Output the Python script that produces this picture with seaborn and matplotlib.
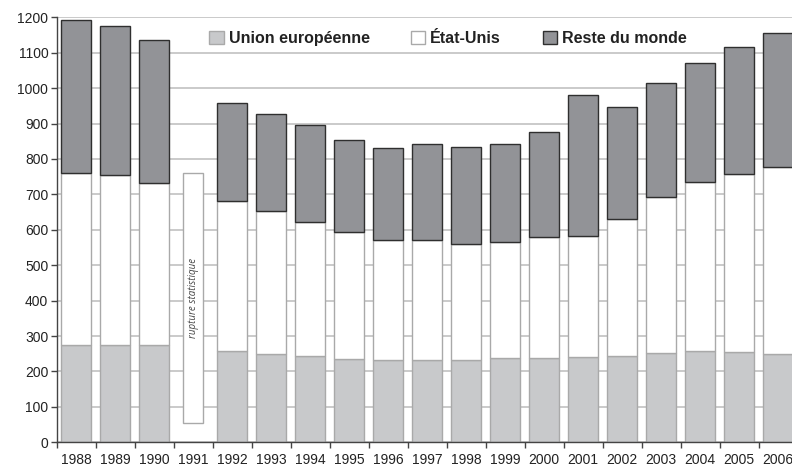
import numpy as np
import pandas as pd
import matplotlib
matplotlib.use("Agg")
import matplotlib.pyplot as plt
import seaborn as sns

# values (1991 = statistical break, no split)
years = [str(y) for y in range(1988, 2007)]
ue = [275, 275, 275, np.nan, 258, 250, 244, 234, 232, 233, 232, 237, 239, 240, 244, 251, 257, 254, 250]
ue_us = [759, 754, 732, np.nan, 682, 653, 622, 593, 571, 570, 561, 565, 580, 583, 630, 692, 736, 758, 778]
total = [1191, 1175, 1135, np.nan, 959, 927, 897, 853, 830, 842, 833, 842, 875, 981, 947, 1014, 1071, 1117, 1156]
rupture_year = "1991"
rupture_low, rupture_high = 55, 761

df = pd.DataFrame({"Annee": years, "UE": ue, "UE_US": ue_us, "Total": total}).dropna()
df["US"] = df["UE_US"] - df["UE"]
df["Reste"] = df["Total"] - df["UE_US"]

sns.set_theme(style="white")
plt.rcParams["font.family"] = ["Liberation Sans", "DejaVu Sans"]

fig = plt.figure(figsize=(7.92, 4.68), dpi=100)
ax = fig.add_axes([56.7 / 792, 25.7 / 468, 741 / 792, 425 / 468])

w = 0.77
sns.barplot(data=df, x="Annee", y="UE", order=years, color="#c8c9cb", saturation=1,
            edgecolor="#a9a9a9", linewidth=1, width=w, errorbar=None, ax=ax,
            label="Union européenne", zorder=2)
sns.barplot(data=df, x="Annee", y="US", order=years, color="white", saturation=1,
            edgecolor="#a9a9a9", linewidth=1, width=w, errorbar=None, ax=ax,
            bottom=df["UE"].values, label="État-Unis", zorder=2)
sns.barplot(data=df, x="Annee", y="Reste", order=years, color="#929397", saturation=1,
            edgecolor="#2f2f2f", linewidth=1, width=w, errorbar=None, ax=ax,
            bottom=df["UE_US"].values, label="Reste du monde", zorder=2)

# statistical break bar
brk = pd.DataFrame({"Annee": [rupture_year], "h": [rupture_high - rupture_low]})
sns.barplot(data=brk, x="Annee", y="h", order=years, color="white", saturation=1,
            edgecolor="#a9a9a9", linewidth=1, width=0.5, errorbar=None, ax=ax,
            bottom=[rupture_low], zorder=2)
ax.text(years.index(rupture_year), 407, "rupture statistique", rotation=90,
        ha="center", va="center", fontsize=7, style="italic", color="#444444",
        family=["Open Sans", "DejaVu Sans"], zorder=3)

ax.set_ylim(0, 1200)
ax.set_yticks(range(0, 1201, 100))
ax.set_xlim(-0.5, len(years) - 0.5)
ax.set_xlabel("")
ax.set_ylabel("")

ax.yaxis.grid(True, color="#bcbcbc", linewidth=1.1, zorder=0)
ax.set_axisbelow(True)
for s in ["top", "right"]:
    ax.spines[s].set_visible(False)
for s in ["left", "bottom"]:
    ax.spines[s].set_color("#444444")
    ax.spines[s].set_linewidth(1)

ax.tick_params(axis="y", which="major", direction="out", length=4, width=1,
               color="#444444", labelsize=10, labelcolor="#222222", pad=2, left=True)
ax.tick_params(axis="x", which="major", length=0, labelsize=10, labelcolor="#222222", pad=8)
ax.set_xticks(np.arange(-0.5, len(years)), minor=True)
ax.tick_params(axis="x", which="minor", direction="out", length=4, width=1,
               color="#444444", bottom=True)

leg = ax.legend(loc="center", bbox_to_anchor=(0.528, 0.951), ncol=3, frameon=False,
                handlelength=0.9, handleheight=0.9, handletextpad=0.3,
                columnspacing=2.6, borderaxespad=0,
                prop={"weight": "bold", "size": 11.5})
for t in leg.get_texts():
    t.set_color("#222222")

fig.savefig("out.png", dpi=100)
